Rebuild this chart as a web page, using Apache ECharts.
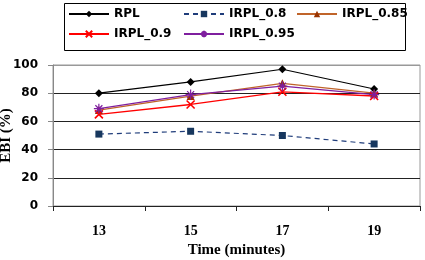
<!DOCTYPE html>
<html>
<head>
<meta charset="utf-8">
<script src="https://cdn.jsdelivr.net/npm/echarts@6/dist/echarts.min.js"></script>
<style>html,body{margin:0;padding:0;background:#fff;}#c{width:425px;height:260px;}</style>
</head>
<body>
<div id="c"></div>
<script>
var categories = ['13', '15', '17', '19'];
var seriesNames = ['RPL', 'IRPL_0.8', 'IRPL_0.85', 'IRPL_0.9', 'IRPL_0.95'];
var rpl = [80, 88, 97, 83];
var irpl08 = [51, 53, 50, 44];
var irpl085 = [68, 78, 87, 80];
var irpl09 = [65, 72, 81, 78];
var irpl095 = [69, 79, 85, 79];
var yTicks = [0, 20, 40, 60, 80, 100];

var chart = echarts.init(document.getElementById('c'));
var xPath = 'path://M0,0L10,10M10,0L0,10';
var starPath = 'path://M5,0L5,10M0,5L10,5M1.5,1.5L8.5,8.5M8.5,1.5L1.5,8.5';
var legendFont = {fontFamily: 'DejaVu Sans', fontWeight: 'bold', fontSize: 12, color: '#000'};
function leg(name, left, top) {
  return {data: [name], left: left, top: top, padding: 0, itemWidth: 40, itemHeight: 8, textStyle: legendFont, selectedMode: false};
}
var option = {
  animation: false,
  backgroundColor: '#fff',
  graphic: [{type: 'rect', shape: {x: 64.5, y: 3.5, width: 341, height: 47}, style: {fill: 'none', stroke: '#000', lineWidth: 1}, silent: true}],
  legend: [
    leg(seriesNames[0], 68, 8), leg(seriesNames[1], 183, 8), leg(seriesNames[2], 296, 8),
    leg(seriesNames[3], 68, 28), leg(seriesNames[4], 183, 28)
  ],
  grid: {left: 53, right: 5, top: 65, bottom: 54, containLabel: false, outerBoundsMode: 'none', show: true, borderColor: '#999', borderWidth: 1},
  xAxis: {
    type: 'category', data: categories, boundaryGap: true,
    name: 'Time (minutes)', nameLocation: 'middle', nameGap: 37, nameMoveOverlap: false,
    nameTextStyle: {fontFamily: 'Liberation Serif', fontWeight: 'bold', fontSize: 15, color: '#000'},
    axisLine: {lineStyle: {color: '#222', width: 1.2}},
    axisTick: {show: true, length: 5, lineStyle: {color: '#222'}},
    axisLabel: {margin: 18, fontFamily: 'Liberation Serif', fontWeight: 'bold', fontSize: 14, color: '#000'}
  },
  yAxis: {
    type: 'value', min: yTicks[0], max: yTicks[yTicks.length - 1], interval: yTicks[1] - yTicks[0],
    name: 'EBI (%)', nameLocation: 'middle', nameGap: 39, nameRotate: 90, nameMoveOverlap: false,
    nameTextStyle: {fontFamily: 'Liberation Serif', fontWeight: 'bold', fontSize: 15, color: '#000'},
    axisLine: {show: true, lineStyle: {color: '#888'}},
    axisTick: {show: true, length: 5, lineStyle: {color: '#888'}},
    axisLabel: {margin: 15, fontFamily: 'DejaVu Sans', fontWeight: 'bold', fontSize: 12, color: '#000'},
    splitLine: {show: true, lineStyle: {color: ['#222', '#222', '#222', '#222', '#222', '#999'], width: 1.2}}
  },
  series: [
    {name: seriesNames[0], type: 'line', data: rpl, symbol: 'diamond', symbolSize: 8,
     lineStyle: {color: '#000', width: 1.2}, itemStyle: {color: '#000'}},
    {name: seriesNames[1], type: 'line', data: irpl08, symbol: 'rect', symbolSize: 7,
     lineStyle: {color: '#1F3C7A', width: 1.2, type: [5, 4]}, itemStyle: {color: '#17375E'}},
    {name: seriesNames[2], type: 'line', data: irpl085, symbol: 'triangle', symbolSize: 8,
     lineStyle: {color: '#C0642A', width: 1.3}, itemStyle: {color: '#993300'}},
    {name: seriesNames[3], type: 'line', data: irpl09, symbol: xPath, symbolSize: 8,
     lineStyle: {color: '#FF0000', width: 1.3}, itemStyle: {color: '#FF0000', borderColor: '#FF0000', borderWidth: 1.6}},
    {name: seriesNames[4], type: 'line', data: irpl095, symbol: starPath, symbolSize: 10,
     lineStyle: {color: '#7F1F9F', width: 1.3}, itemStyle: {color: 'rgba(0,0,0,0)', borderColor: '#7F1F9F', borderWidth: 1.2}}
  ]
};
chart.setOption(option);
</script>
</body>
</html>
